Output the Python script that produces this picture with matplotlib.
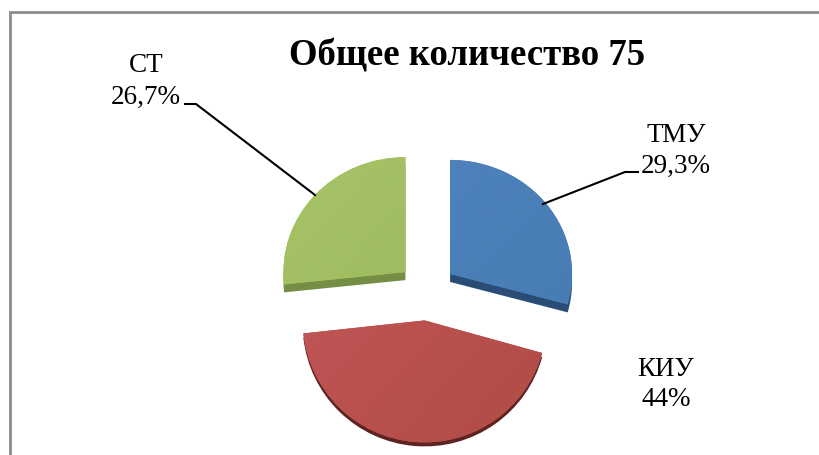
import matplotlib
matplotlib.use('Agg')
import matplotlib.pyplot as plt
import matplotlib.transforms as mtrans
import numpy as np

plt.rcParams['font.family'] = ['Liberation Serif', 'DejaVu Sans']

title = 'Общее количество 75'
categories = ['ТМУ', 'КИУ', 'СТ']
values = [29.3, 44, 26.7]
value_labels = ['29,3%', '44%', '26,7%']

# colors for the top (light/dark end of gradient) and the side of each slice
light_colors = ['#5285C2', '#C4585A', '#A8C468']
dark_colors = ['#457AB0', '#B04B45', '#94B458']
side_colors = ['#2A4D75', '#5E2422', '#748F45']

W, H = 819, 455
# pixel coordinates, y flipped so that pie angles stay normal
def py(y):
    return H - y

center = (427, py(291.5))
radius = 122
explode = [29, 29, 29]
y_scale = [114 / 122, 122 / 122, 115 / 122]
depth = [8, 4, 8]

fig = plt.figure(figsize=(W / 100, H / 100), dpi=100)
ax = fig.add_axes([0, 0, 1, 1])


def squash(wedge, k, drop=0):
    # tilt the slice around its own tip, the pie is shown in perspective
    cx, cy = wedge.center
    return (mtrans.Affine2D().translate(-cx, -cy).scale(1, k)
            .translate(cx, cy - drop) + ax.transData)


# the side of the slices first, then the top with a soft gradient
side, _ = ax.pie(values, explode=explode, colors=side_colors, startangle=90,
                 counterclock=False, center=center, radius=radius)
for w, k, d in zip(side, y_scale, depth):
    w.set_transform(squash(w, k, d))

top, _ = ax.pie(values, explode=explode, colors=light_colors, startangle=90,
                counterclock=False, center=center, radius=radius)
xx, yy = np.meshgrid(np.linspace(0, 1, 64), np.linspace(0, 1, 64))
shade = (xx + yy) / 2
for w, k, c1, c2 in zip(top, y_scale, light_colors, dark_colors):
    w.set_transform(squash(w, k))
    w.set_linewidth(0)
    a = np.array(matplotlib.colors.to_rgb(c1))
    b = np.array(matplotlib.colors.to_rgb(c2))
    img = a[None, None, :] * (1 - shade[:, :, None]) + b[None, None, :] * shade[:, :, None]
    cx, cy = w.center
    im = ax.imshow(img, extent=(cx - radius, cx + radius, cy - radius * 1.1, cy + radius * 1.1),
                   aspect='auto', origin='upper', zorder=2)
    im.set_clip_path(w)

ax.set_xlim(0, W)
ax.set_ylim(0, H)
ax.set_aspect('auto')
ax.axis('off')

# chart frame, only top and left are inside the crop
ax.plot([10, 10, W], [0, py(12), py(12)], color='#8C8C8C', lw=2, solid_joinstyle='miter')

ax.text(467, py(56), title, fontsize=26.5, fontweight='bold', ha='center', va='center')

ax.text(676, py(135), categories[0], fontsize=19.5, ha='center', va='center')
ax.text(676, py(166), value_labels[0], fontsize=19.5, ha='center', va='center')
ax.text(666, py(369), categories[1], fontsize=19.5, ha='center', va='center')
ax.text(666, py(400), value_labels[1], fontsize=19.5, ha='center', va='center')
ax.text(146, py(66), categories[2], fontsize=19.5, ha='center', va='center')
ax.text(146, py(97), value_labels[2], fontsize=19.5, ha='center', va='center')

# leader lines
ax.plot([638, 625, 543], [py(172), py(172), py(204)], color='black', lw=1.5)
ax.plot([185, 196, 315], [py(104), py(104), py(195)], color='black', lw=1.5)

fig.savefig('out.png', dpi=100, facecolor='white')
